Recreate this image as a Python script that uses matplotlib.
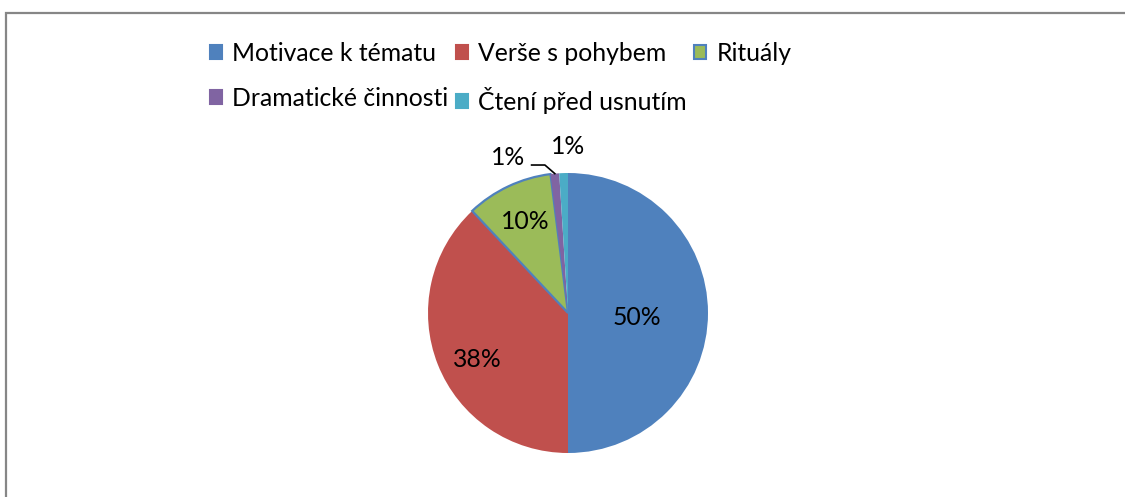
import numpy as np
import matplotlib
matplotlib.use("Agg")
import matplotlib.pyplot as plt
from matplotlib.patches import Rectangle, Patch
from matplotlib.lines import Line2D

categories = ["Motivace k tématu", "Verše s pohybem", "Rituály",
              "Dramatické činnosti", "Čtení před usnutím"]
values = [50, 38, 10, 1, 1]
labels_pct = ["50%", "38%", "10%", "1%", "1%"]
colors = ["#4F81BD", "#C0504D", "#9BBB59", "#8064A2", "#4BACC6"]
edge_colors = ["none", "none", "#4F81BD", "none", "none"]
label_dist = [0.49, 0.73, 0.72, 1.19, 1.19]

plt.rcParams['font.family'] = ['Lato', 'DejaVu Sans']

W, H = 1125, 497
fig = plt.figure(figsize=(W / 100, H / 100), dpi=100)

# outer chart border (only top and left visible)
fig.add_artist(Rectangle((5.5 / W, -0.2), 1.5, 1.2 - 12.5 / H + 0.0,
                         transform=fig.transFigure, fill=False,
                         edgecolor="#868686", linewidth=1.6))

cx, cy, r = 568, 313, 140
ax = fig.add_axes([(cx - r) / W, (H - cy - r) / H, 2 * r / W, 2 * r / H])
wedges, _ = ax.pie(values, colors=colors, startangle=90, counterclock=False,
                   radius=1.0)
for w, ec in zip(wedges, edge_colors):
    if ec != "none":
        w.set_edgecolor(ec)
        w.set_linewidth(1.6)
    else:
        w.set_linewidth(0)
ax.set_xlim(-1, 1)
ax.set_ylim(-1, 1)
ax.set_aspect("equal")
ax.axis("off")

fs = 17.8
ang_offset = [-3.5, 5.5, 0, 0, 0]
for i, (w, lab, d) in enumerate(zip(wedges, labels_pct, label_dist)):
    ang = np.deg2rad((w.theta1 + w.theta2) / 2 + ang_offset[i])
    if i == 3:
        ang = np.deg2rad(111)
    elif i == 4:
        ang = np.deg2rad(90)
    x, y = d * np.cos(ang), d * np.sin(ang)
    ax.text(x, y, lab, ha="center", va="center", fontsize=fs, color="black",
            clip_on=False)

# leader line for the purple slice label
w = wedges[3]
mid = np.deg2rad((w.theta1 + w.theta2) / 2)
ex, ey = np.cos(mid), np.sin(mid)
ax.add_line(Line2D([-0.26, -0.165, ex], [1.057, 1.057, ey], color="black",
                   linewidth=1.2, clip_on=False))

handles = [Patch(facecolor=c, edgecolor=(e if e != "none" else c), linewidth=1.5)
           for c, e in zip(colors, edge_colors)]
order = [0, 3, 1, 4, 2]
leg = fig.legend([handles[i] for i in order], [categories[i] for i in order],
                 ncol=3, loc="upper left", bbox_to_anchor=(210 / W, 1 - 42 / H),
                 frameon=False, fontsize=fs, handlelength=0.5, handleheight=0.5,
                 handletextpad=0.4, columnspacing=0.3, labelspacing=0.88,
                 borderpad=0, borderaxespad=0)

fig.savefig("out.png", dpi=100)
